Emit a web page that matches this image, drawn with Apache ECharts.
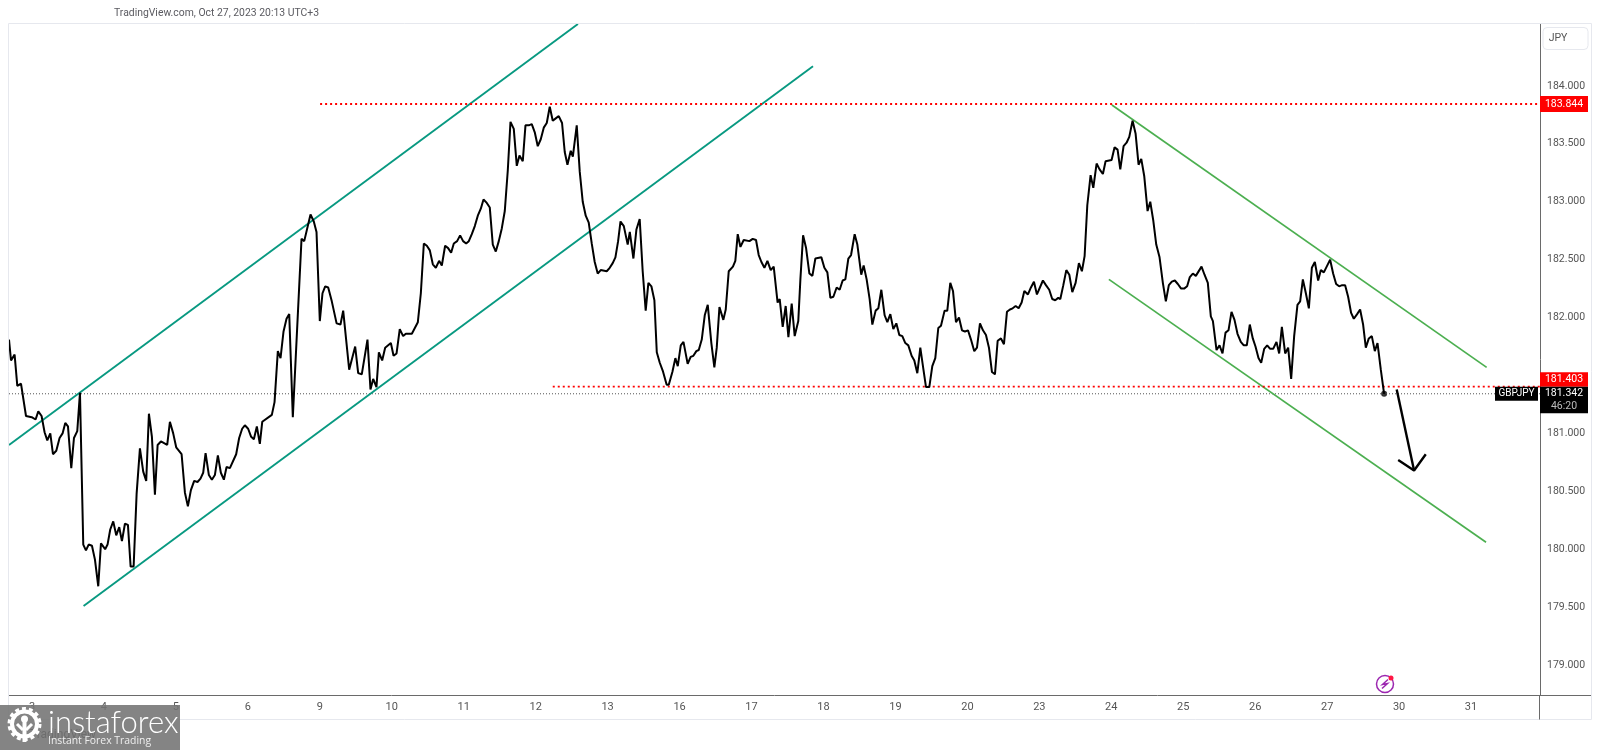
<!DOCTYPE html>
<html>
<head>
<meta charset="utf-8">
<title>GBPJPY</title>
<script src="https://cdn.jsdelivr.net/npm/echarts@6/dist/echarts.min.js"></script>
<style>
    html, body { margin: 0; padding: 0; background: #fff; }
    #chart { width: 1600px; height: 750px; }
</style>
</head>
<body>
<div id="chart"></div>
<script>
var dayLabels = ['3', '4', '5', '6', '9', '10', '11', '12', '13', '16', '17', '18', '19', '20', '23', '24', '25', '26', '27', '30', '31'];
// 181.500 sits under the red tag in the original, so it is left out
var priceTicks = [179, 179.5, 180, 180.5, 181, 182, 182.5, 183, 183.5, 184];

// hours counted from the "3" label, hand read vertices of the close line
var closeHours = [-7.67, -7, -5.8, -4.9, -3.67, -2, -0.1, 1.2, 2.1, 3.2, 4.2, 5.1, 6.1, 7, 8.1, 9.2, 10.2, 11.1, 12, 13.1, 14, 15.1, 16, 17.1, 18, 18.9, 20, 21, 22.1, 23, 24.4, 25.2, 26.1, 27.1, 28.1, 29.1, 30, 31, 32, 32.9, 33.9, 34.9, 36, 37.1, 38.1, 39, 40, 41, 41.9, 43, 45.1, 46, 47.1, 48.1, 49.9, 51, 52, 53, 54.1, 55.2, 56.2, 57.1, 57.9, 59, 60, 61, 62, 63, 64, 64.9, 66, 68.1, 69.1, 70.1, 71, 72.1, 73.1, 74, 75, 76, 76.8, 80, 80.9, 82, 82.9, 83.9, 84.9, 85.8, 87, 89.9, 90.8, 92.9, 94, 94.9, 96, 96.9, 97.8, 98.8, 100, 101.6, 102.9, 103.8, 104.9, 105.8, 107.8, 108.8, 110, 111.9, 112.9, 113.8, 114.9, 115.7, 116.8, 117.8, 119.7, 120.6, 121.6,
    122.67, 123.8, 124.7, 126.7, 127.7, 128.7, 129.7, 130.7, 131.7, 132.7, 133.7, 134.7, 135.8, 136.7, 137.8, 138.8, 139.8, 140.7, 141.8, 142.8, 143.8, 144.8, 145.7, 146.7, 147.7, 148.7, 149.7, 150.6, 151.7, 152.7, 153.7, 154.7, 155.7, 156.7, 157.7, 158.7, 159.6, 160.7, 161.7, 162.6, 163.7, 164.6, 165.7, 166.7, 167.7, 168.7, 169.7, 170.7, 171.7, 172.7, 173.7, 174.7, 175.7, 176.8, 177.7, 178.6, 179.7, 180.4, 181.7, 182.7, 183.7, 184.7, 185.7, 186.7, 187.7, 188.7, 189.7, 191.7, 192.7, 193.7, 194.6, 195.5, 196.3, 197.4, 198.7, 199.4, 200.6, 201.6, 202.7, 203.7, 204.7, 205.6, 206.6, 207.6, 208.4, 209.4, 210.4, 211.7, 212.4, 213.6, 214.6, 215.4, 216.4, 217.3, 218.7, 219.7, 220.6, 221.6, 222.4, 223.4, 224.4, 225.4, 226.6, 227.6, 228.4, 229.3, 230.6, 231.4, 232.4, 233.8, 234.6, 235.4, 236.3, 237.4,
    239.3, 240.4, 241.5, 242.4, 243.3, 244.3, 245.3, 246.4, 247.4, 248.7, 249.4, 250.4, 251.4, 252.3, 253.4, 254.4, 255.6, 256.3, 257.2, 258.2, 259.3, 260.3, 261.3, 263.3, 264.3, 265.3, 266.3, 267.3, 268.4, 269.4, 270.4, 271.3, 272.3, 273.2, 274.4, 275.3, 276.6, 277.4, 278.4, 279.4, 280.3, 281.4, 282.3, 283.3, 284.4, 285.3, 286.3, 287.3, 288.3, 289.3, 290.3, 291.3, 292.3, 293.4, 294.3, 295.3, 296.3, 297.3, 298.2, 299.3, 300.3, 301.3, 302.3, 303.2, 304.4, 305.3, 306.3, 307.2, 308.2, 309.2, 310.2, 311.2, 312.2, 313.2, 314.3, 315.2, 316.2, 317.2, 318.2, 319.2, 320.2, 321.2, 322.1, 323.2, 324.2, 325.2, 326.2, 327.1, 328.1, 329.1, 330.1, 331, 332.2, 333.2, 334.2, 335.2, 337.2, 338.2,
    339.3, 340.3, 341.3, 342.3, 343, 344, 345, 346, 347, 348.1, 349.2, 350.2, 351.1, 352, 353.1, 354, 355.1, 356.1, 357.2, 358.1, 360.1, 361.1, 362.1, 363, 364.1, 365.1, 366, 367.1, 368.1, 369.1, 370, 371, 372.1, 373, 374, 375, 376.1, 377.2, 378.2, 379.2, 380.2, 381.2, 382.2, 383.3, 384.3, 385.3, 386.2, 387.2, 388.2, 390.1, 391.1, 392.2, 393.2, 393.9, 395.1, 396.1, 397.1, 398.1, 399.1, 400.1, 401.1, 402.1, 403.2, 404.2, 405.2, 406.2, 407.2, 408.1, 409.1, 410, 411, 412, 413, 414, 415.1, 416, 416.9, 418, 419, 420, 421, 422.1, 423, 423.9, 424.9, 425.9, 426.9, 427.9, 429, 429.9, 430.9, 433, 434, 435, 436, 437, 438, 439, 440, 440.9, 442, 443, 444, 444.9, 445.9, 446.9, 447.9, 448.8, 449.9, 451];
var closePrices = [181.81, 181.63, 181.68, 181.41, 181.43, 181.15, 181.14, 181.12, 181.19, 181.15, 181.01, 180.94, 181, 180.82, 180.85, 180.96, 181, 181.09, 181.06, 180.7, 180.96, 181.02, 181.35, 180.04, 179.99, 180.04, 180.03, 179.91, 179.68, 180.05, 180, 180.04, 180.17, 180.24, 180.12, 180.19, 180.07, 180.22, 180.21, 179.85, 179.85, 180.48, 180.87, 180.67, 180.59, 181.17, 180.97, 180.47, 180.9, 180.93, 180.9, 181.1, 181, 180.88, 180.82, 180.49, 180.37, 180.51, 180.59, 180.58, 180.61, 180.66, 180.83, 180.64, 180.6, 180.64, 180.81, 180.66, 180.6, 180.71, 180.7, 180.82, 180.96, 181.04, 181.07, 181.04, 180.97, 180.95, 181.06, 180.91, 181.1, 181.16, 181.27, 181.71, 181.65, 181.88, 181.99, 182.03, 181.14, 182.68, 182.66, 182.89, 182.83, 182.74, 181.97, 182.21, 182.27, 182.26, 182.14, 181.95, 181.94, 182.06, 181.78, 181.55, 181.75, 181.52, 181.51, 181.81, 181.38, 181.47, 181.4, 181.7, 181.63, 181.74, 181.78, 181.67, 181.69,
    181.9, 181.84, 181.86, 181.86, 181.91, 181.96, 182.21, 182.64, 182.62, 182.58, 182.46, 182.43, 182.49, 182.45, 182.62, 182.6, 182.56, 182.64, 182.66, 182.71, 182.66, 182.64, 182.66, 182.72, 182.79, 182.88, 182.94, 183.02, 182.99, 182.95, 182.63, 182.57, 182.66, 182.77, 182.92, 183.27, 183.69, 183.63, 183.31, 183.4, 183.35, 183.66, 183.66, 183.67, 183.6, 183.48, 183.54, 183.64, 183.68, 183.82, 183.7, 183.72, 183.74, 183.68, 183.43, 183.32, 183.44, 183.39, 183.66, 183.26, 183, 182.88, 182.82, 182.64, 182.48, 182.38, 182.41, 182.4, 182.43, 182.47, 182.52, 182.66, 182.83, 182.79, 182.63, 182.74, 182.51, 182.76, 182.85, 182.4, 182.06, 182.3, 182.27, 182.15, 181.7, 181.61, 181.54, 181.42, 181.42, 181.53, 181.65, 181.58, 181.76, 181.79, 181.6, 181.66, 181.67, 181.71, 181.72, 181.81, 182.02, 182.11, 181.78, 181.57, 181.74, 182.09, 181.98, 182.07, 182.4, 182.44, 182.49, 182.72, 182.61, 182.67,
    182.66, 182.68, 182.67, 182.54, 182.48, 182.43, 182.49, 182.41, 182.44, 182.13, 182.16, 181.92, 182.1, 181.83, 182.12, 181.84, 181.97, 182.33, 182.71, 182.6, 182.38, 182.36, 182.51, 182.52, 182.43, 182.39, 182.17, 182.18, 182.26, 182.24, 182.32, 182.33, 182.51, 182.54, 182.72, 182.63, 182.37, 182.45, 182.33, 182.16, 181.94, 182.06, 182.08, 182.24, 182.02, 181.96, 182.03, 181.9, 181.95, 181.85, 181.84, 181.78, 181.76, 181.67, 181.63, 181.52, 181.74, 181.56, 181.4, 181.4, 181.58, 181.65, 181.91, 181.93, 182.06, 182.06, 182.3, 182.23, 181.96, 182, 181.89, 181.88, 181.89, 181.81, 181.71, 181.74, 181.95, 181.89, 181.85, 181.74, 181.53, 181.51, 181.8, 181.82, 181.77, 182.05, 182.07, 182.08, 182.1, 182.08, 182.13, 182.23, 182.2, 182.26, 182.31, 182.2, 182.32, 182.28,
    182.24, 182.16, 182.15, 182.17, 182.16, 182.28, 182.41, 182.37, 182.22, 182.3, 182.47, 182.4, 182.53, 182.97, 183.23, 183.12, 183.33, 183.28, 183.24, 183.35, 183.36, 183.47, 183.45, 183.28, 183.48, 183.51, 183.56, 183.7, 183.59, 183.32, 183.37, 183.22, 182.92, 183, 182.84, 182.63, 182.52, 182.3, 182.14, 182.28, 182.31, 182.32, 182.29, 182.25, 182.25, 182.27, 182.35, 182.38, 182.36, 182.44, 182.37, 182.3, 182.01, 181.97, 181.72, 181.76, 181.69, 181.87, 181.89, 182.05, 181.98, 181.86, 181.79, 181.76, 181.76, 181.94, 181.82, 181.75, 181.65, 181.61, 181.73, 181.76, 181.73, 181.73, 181.79, 181.69, 181.92, 181.69, 181.74, 181.47, 181.84, 182.11, 182.14, 182.33, 182.21, 182.08, 182.43, 182.48, 182.32, 182.41, 182.39, 182.5, 182.38, 182.29, 182.27, 182.28, 182.28, 182.18, 182.04, 181.99, 182.03, 182.07, 181.94, 181.74, 181.82, 181.84, 181.71, 181.78, 181.55, 181.342];

// drawn trend lines, [hour, price]
var channelUpTop = [[-7.67, 180.9], [182.1, 184.535]];
var channelUpBottom = [[17.2, 179.51], [260.5, 184.17]];
var channelDownTop = [[360.2, 183.836], [485.2, 181.57]];
var channelDownBottom = [[359.2, 182.33], [485, 180.06]];
var resistance = [[96.1, 183.844], [503, 183.844]];
var support = [[173.7, 181.403], [503, 181.403]];
var lastPrice = 181.342;
var arrowShaft = [[455.2, 181.38], [461, 180.68]];
var arrowHead = [[455.7, 180.77], [461, 180.68], [464.9, 180.82]];

var labelFont = 'Roboto, "Liberation Sans", sans-serif';
var closeData = closeHours.map(function (h, i) {
    return [h, closePrices[i]];
});

function trendLine(points, color, width, dash) {
    return {
        type: 'line',
        data: points,
        symbol: 'none',
        silent: true,
        animation: false,
        lineStyle: { color: color, width: width, type: dash || 'solid' }
    };
}

var chart = echarts.init(document.getElementById('chart'));
chart.setOption({
    animation: false,
    backgroundColor: '#fff',
    grid: { left: 9, right: 60, top: 24, bottom: 55 },
    xAxis: {
        type: 'value',
        min: -7.67,
        max: 503,
        splitLine: { show: false },
        axisTick: { show: false },
        axisLine: { onZero: false, lineStyle: { color: '#6a6a6a', width: 1 } },
        axisLabel: {
            customValues: dayLabels.map(function (d, i) { return i * 24; }),
            formatter: function (v) { return dayLabels[Math.round(v / 24)]; },
            color: '#555',
            fontFamily: labelFont,
            fontSize: 11,
            margin: 7
        }
    },
    yAxis: {
        type: 'value',
        position: 'right',
        min: 178.741,
        max: 184.535,
        splitLine: { show: false },
        axisTick: { show: false },
        axisLine: { show: true, onZero: false, lineStyle: { color: '#6a6a6a', width: 1 } },
        axisLabel: {
            customValues: priceTicks,
            formatter: function (v) { return v.toFixed(3); },
            color: '#555',
            fontFamily: labelFont,
            fontSize: 10.5,
            margin: 7
        }
    },
    series: [
        trendLine([[-7.67, lastPrice], [503, lastPrice]], '#555', 1, [1, 2]),
        trendLine(channelUpTop, '#089981', 1.9),
        trendLine(channelUpBottom, '#089981', 1.9),
        trendLine(channelDownTop, '#4caf50', 1.7),
        trendLine(channelDownBottom, '#4caf50', 1.7),
        trendLine(resistance, '#ff0000', 1.8, [2, 3]),
        trendLine(support, '#ff0000', 1.8, [2, 3]),
        trendLine(closeData, '#000', 2),
        trendLine(arrowShaft, '#000', 2.4),
        trendLine(arrowHead, '#000', 2.4),
        {
            type: 'scatter',
            data: [closeData[closeData.length - 1]],
            symbolSize: 6,
            silent: true,
            itemStyle: { color: '#000' }
        }
    ]
});

// price tags and frame, tags hang off the axis scale
var yTop = chart.convertToPixel({ yAxisIndex: 0 }, 183.844);
var ySup = chart.convertToPixel({ yAxisIndex: 0 }, 181.403);
var yLast = chart.convertToPixel({ yAxisIndex: 0 }, lastPrice);

function tag(y0, y1, color) {
    return { type: 'rect', z: 20, shape: { x: 1540, y: y0, width: 48, height: y1 - y0 }, style: { fill: color } };
}
function txt(text, x, y, color, font, align) {
    return {
        type: 'text', z: 21, x: x, y: y,
        style: { text: text, fill: color, font: font, textAlign: align || 'center', textVerticalAlign: 'middle' }
    };
}
function frameLine(x1, y1, x2, y2, color) {
    return { type: 'line', z: 5, shape: { x1: x1, y1: y1, x2: x2, y2: y2 }, style: { stroke: color, lineWidth: 1 } };
}

var small = '10.5px ' + labelFont;
chart.setOption({
    graphic: [
        // frame
        frameLine(8.5, 23.5, 1591.5, 23.5, '#e6e8ee'),
        frameLine(8.5, 23.5, 8.5, 719.5, '#e6e8ee'),
        frameLine(1591.5, 23.5, 1591.5, 719.5, '#e6e8ee'),
        frameLine(8.5, 719.5, 1591.5, 719.5, '#e6e8ee'),
        frameLine(1539.5, 695.5, 1539.5, 719.5, '#6a6a6a'),
        frameLine(1540, 695.5, 1591, 695.5, '#6a6a6a'),

        txt('TradingView.com, Oct 27, 2023 20:13 UTC+3', 114, 13, '#5a5a60', '10.4px ' + labelFont, 'left'),

        // currency button
        {
            type: 'rect', z: 20,
            shape: { x: 1543, y: 27.5, width: 45, height: 22, r: 4 },
            style: { fill: '#fff', stroke: '#e6e8ee', lineWidth: 1 }
        },
        txt('JPY', 1558, 38.5, '#555', small),

        // tags
        tag(yTop - 8, yTop + 8, '#ff0000'),
        txt('183.844', 1564, yTop, '#fff', small),
        tag(ySup - 14.5, ySup, '#ff0000'),
        txt('181.403', 1564, ySup - 7, '#fff', small),
        tag(ySup, ySup + 26.5, '#000'),
        txt('181.342', 1564, yLast, '#fff', small),
        txt('46:20', 1564, yLast + 12.5, '#bbb', small),
        { type: 'rect', z: 20, shape: { x: 1495, y: yLast - 7, width: 43, height: 14 }, style: { fill: '#000' } },
        txt('GBPJPY', 1516.5, yLast, '#fff', '10px ' + labelFont),

        // news icon
        {
            type: 'circle', z: 20,
            shape: { cx: 1385, cy: 684, r: 8.5 },
            style: { fill: 'none', stroke: '#9c27b0', lineWidth: 1.5 }
        },
        {
            type: 'polyline', z: 21,
            shape: { points: [[1388, 679.5], [1382.5, 684.5], [1387.5, 683.5], [1382, 688.5]] },
            style: { fill: 'none', stroke: '#9c27b0', lineWidth: 1.5 }
        },
        { type: 'circle', z: 22, shape: { cx: 1391, cy: 678, r: 2.5 }, style: { fill: '#ff1744' } },

        // watermark
        txt('TradingView', 30, 735, '#444', '12px ' + labelFont, 'left'),
        { type: 'rect', z: 30, shape: { x: 0, y: 705, width: 180, height: 45 }, style: { fill: 'rgba(115,115,115,0.88)' } },
        {
            type: 'circle', z: 31,
            shape: { cx: 24.5, cy: 724, r: 12.5 },
            style: { fill: 'none', stroke: '#fff', lineWidth: 4 }
        },
        {
            type: 'circle', z: 31,
            shape: { cx: 24.5, cy: 724, r: 15.5 },
            style: { fill: 'none', stroke: '#fff', lineWidth: 3, lineDash: [4, 3] }
        },
        { type: 'circle', z: 31, shape: { cx: 24.5, cy: 719, r: 3.5 }, style: { fill: '#fff' } },
        { type: 'line', z: 31, shape: { x1: 24.5, y1: 722, x2: 24.5, y2: 742 }, style: { stroke: '#fff', lineWidth: 4 } },
        { type: 'line', z: 31, shape: { x1: 17, y1: 724, x2: 23, y2: 730 }, style: { stroke: '#fff', lineWidth: 3 } },
        { type: 'line', z: 31, shape: { x1: 32, y1: 724, x2: 26, y2: 730 }, style: { stroke: '#fff', lineWidth: 3 } },
        {
            type: 'text', z: 32, x: 48, y: 723,
            style: { text: 'instaforex', fill: '#fff', font: '300 31px Lato, "Open Sans", sans-serif', textAlign: 'left', textVerticalAlign: 'middle' }
        },
        {
            type: 'text', z: 32, x: 48, y: 741,
            style: { text: 'Instant Forex Trading', fill: '#eee', font: '10.4px "Open Sans", sans-serif', textAlign: 'left', textVerticalAlign: 'middle' }
        }
    ]
});
</script>
</body>
</html>
